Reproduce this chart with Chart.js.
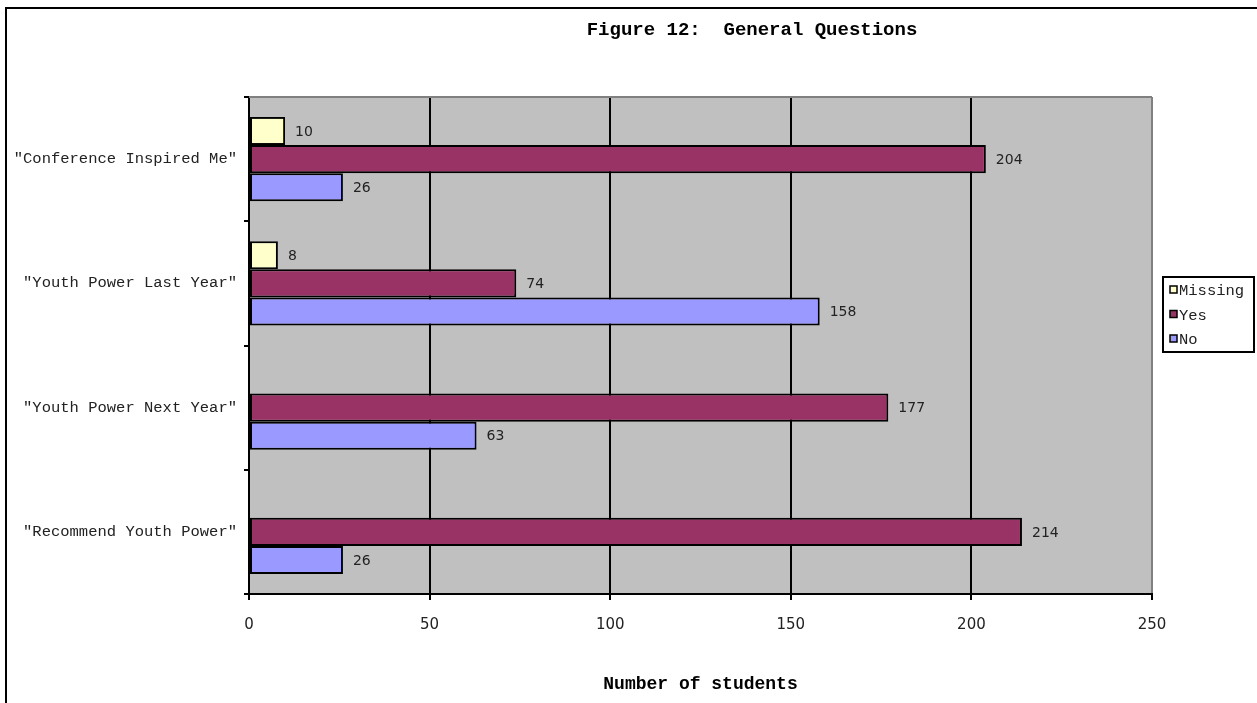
<!DOCTYPE html>
<html>
<head>
<meta charset="utf-8">
<title>Figure 12: General Questions</title>
<script src="https://cdn.jsdelivr.net/npm/chart.js@4.4.1/dist/chart.umd.min.js"></script>
<style>
  html, body { margin: 0; padding: 0; background: #fff; overflow: hidden; }
  #wrap { position: relative; width: 1257px; height: 703px; }
  #frame { position: absolute; left: 5px; top: 7px; width: 1300px; height: 800px;
           border: 2px solid #000; box-sizing: border-box; }
  #chart { position: absolute; left: 0; top: 0; }
</style>
</head>
<body>
<div id="wrap">
  <div id="frame"></div>
  <canvas id="chart" width="1257" height="703"></canvas>
</div>
<script>
// Survey answers per question (number of students)
const categories = [
  '"Conference Inspired Me"',
  '"Youth Power Last Year"',
  '"Youth Power Next Year"',
  '"Recommend Youth Power"'
];
const missingValues = [10, 8, null, null];
const yesValues = [204, 74, 177, 214];
const noValues = [26, 158, 63, 26];
const xTicks = [0, 50, 100, 150, 200, 250];

const seriesNames = ['Missing', 'Yes', 'No'];
const seriesColors = ['#FFFFCC', '#993366', '#9999FF'];

const MONO = '"Liberation Mono", "Courier New", monospace';
const SANS = '"DejaVu Sans", sans-serif';

// Grey plot background and the grey top edge of the plot frame
const plotFrame = {
  id: 'plotFrame',
  beforeDraw(chart) {
    const { ctx, chartArea: a } = chart;
    ctx.save();
    ctx.fillStyle = '#C0C0C0';
    ctx.fillRect(a.left, a.top, a.right - a.left, a.bottom - a.top);
    ctx.restore();
  },
  beforeDatasetsDraw(chart) {
    const { ctx, chartArea: a } = chart;
    ctx.save();
    ctx.strokeStyle = '#808080';
    ctx.lineWidth = 2;
    ctx.beginPath();
    ctx.moveTo(a.left, a.top);
    ctx.lineTo(a.right, a.top);
    ctx.stroke();
    ctx.restore();
  }
};

// Value written to the right of each bar
const valueLabels = {
  id: 'valueLabels',
  afterDatasetsDraw(chart) {
    const { ctx } = chart;
    ctx.save();
    ctx.font = '14px ' + SANS;
    ctx.fillStyle = '#222';
    ctx.textAlign = 'left';
    ctx.textBaseline = 'middle';
    chart.data.datasets.forEach((ds, i) => {
      const meta = chart.getDatasetMeta(i);
      meta.data.forEach((bar, j) => {
        const v = ds.data[j];
        if (v === null || v === undefined) return;
        ctx.fillText(String(v), bar.x + 10, bar.y + 1);
      });
    });
    ctx.restore();
  }
};

// Chart title and boxed legend on the right
const titleAndLegend = {
  id: 'titleAndLegend',
  afterDraw(chart) {
    const { ctx } = chart;
    ctx.save();
    ctx.fillStyle = '#000';
    ctx.font = 'bold 19px ' + MONO;
    ctx.textAlign = 'center';
    ctx.textBaseline = 'middle';
    ctx.fillText('Figure 12:  General Questions', 752, 30);

    // legend box
    const lx = 1163, ly = 277, lw = 91, lh = 75;
    ctx.fillStyle = '#fff';
    ctx.fillRect(lx, ly, lw, lh);
    ctx.strokeStyle = '#000';
    ctx.lineWidth = 2;
    ctx.strokeRect(lx, ly, lw, lh);

    ctx.font = '15.5px ' + MONO;
    ctx.textAlign = 'left';
    chart.data.datasets.forEach((ds, i) => {
      const cy = 290 + i * 24.5;
      ctx.fillStyle = ds.backgroundColor;
      ctx.fillRect(lx + 7, cy - 4, 7, 7);
      ctx.lineWidth = 1.5;
      ctx.strokeStyle = '#000';
      ctx.strokeRect(lx + 7, cy - 4, 7, 7);
      ctx.fillStyle = '#222';
      ctx.fillText(ds.label, lx + 16, cy + 1);
    });
    ctx.restore();
  }
};

const datasetValues = [missingValues, yesValues, noValues];

new Chart(document.getElementById('chart'), {
  type: 'bar',
  data: {
    labels: categories,
    datasets: seriesNames.map((name, i) => ({
      label: name,
      data: datasetValues[i],
      backgroundColor: seriesColors[i],
      borderColor: '#000',
      borderWidth: 2,
      borderSkipped: false,
      categoryPercentage: 0.68,
      barPercentage: 1.0
    }))
  },
  options: {
    indexAxis: 'y',
    responsive: false,
    animation: false,
    devicePixelRatio: 1,
    layout: { padding: { top: 97, right: 105, left: 0, bottom: 0 } },
    plugins: {
      legend: { display: false },
      title: { display: false },
      tooltip: { enabled: false }
    },
    scales: {
      x: {
        type: 'linear',
        min: xTicks[0],
        max: xTicks[xTicks.length - 1],
        afterFit(scale) { scale.height = 109; },
        afterBuildTicks(scale) { scale.ticks = xTicks.map(v => ({ value: v })); },
        ticks: {
          font: { family: SANS, size: 15 },
          color: '#222',
          padding: 16
        },
        grid: {
          color: ctx => (ctx.tick && ctx.tick.value === 250 ? '#808080' : '#000'),
          tickColor: '#000',
          lineWidth: 2,
          tickLength: 6
        },
        border: { display: true, color: '#000', width: 2 },
        title: {
          display: true,
          text: 'Number of students',
          font: { family: MONO, size: 18, weight: 'bold' },
          color: '#000',
          padding: { top: 0, bottom: 8 }
        }
      },
      y: {
        afterFit(scale) { scale.width = 249; },
        ticks: {
          font: { family: MONO, size: 15.5 },
          color: '#222',
          padding: 7
        },
        grid: {
          drawOnChartArea: false,
          color: '#000',
          lineWidth: 2,
          tickLength: 5,
          offset: true
        },
        border: { display: true, color: '#000', width: 2 }
      }
    }
  },
  plugins: [plotFrame, valueLabels, titleAndLegend]
});
</script>
</body>
</html>
